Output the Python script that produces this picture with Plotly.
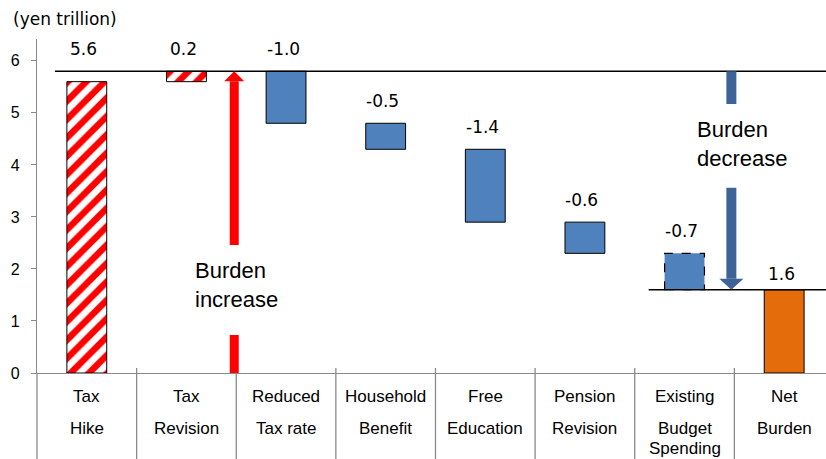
import plotly.graph_objects as go

# Consumption-tax package: step changes (yen trillion) and the resulting net burden
categories = ["Tax<br>Hike", "Tax<br>Revision", "Reduced<br>Tax rate", "Household<br>Benefit",
              "Free<br>Education", "Pension<br>Revision", "Existing<br>Budget<br>Spending", "Net<br>Burden"]
changes = [5.6, 0.2, -1.0, -0.5, -1.4, -0.6, -0.7]
net_burden = 1.6
y_ticks = [0, 1, 2, 3, 4, 5, 6]

# Layout geometry
W, H = 826, 459
M_L, M_R, M_T, M_B = 37, 0, 39, 86
Y_MAX = 6.42
X_MIN, X_MAX = -0.5, 7.42
PLOT_H = H - M_T - M_B
PX_PER_UNIT = PLOT_H / Y_MAX

NUM_FONT = "DejaVu Sans"
TXT_FONT = "Liberation Sans"
GRAY = "#8a8a8a"
BLUE = "#4F81BD"
ORANGE = "#E46C0A"
RED = "#FF0000"
ARROW_BLUE = "#3D6398"

# Floating bar geometry from the running total
bases, heights, tops = [], [], []
running = 0.0
for c in changes:
    lo = running if c > 0 else running + c
    bases.append(lo)
    heights.append(abs(c))
    running += c
    tops.append(max(running, running - c))
peak = max(tops)
bases.append(0.0)
heights.append(net_burden)
tops.append(net_burden)
labels = [f"{v:.1f}" for v in changes] + [f"{net_burden:.1f}"]
xs = list(range(len(categories)))

fig = go.Figure()


def add_bars(idx, **marker):
    fig.add_trace(go.Bar(
        x=[xs[i] for i in idx], y=[heights[i] for i in idx], base=[bases[i] for i in idx],
        width=0.4, marker=marker, opacity=1, showlegend=False, hoverinfo="skip"))


# Tax increases: red/white hatching
add_bars([0, 1], color="white",
         pattern=dict(shape="/", fgcolor=RED, bgcolor="white", fgopacity=1,
                      size=13, solidity=0.5, fillmode="overlay"),
         line=dict(color="black", width=1))
# Offsetting measures
add_bars([2, 3, 4, 5], color=BLUE, line=dict(color="black", width=1))
# Existing budget spending (outlined with a dashed border below)
add_bars([6], color=BLUE, line=dict(width=0))
# Net burden
add_bars([7], color=ORANGE, line=dict(color="black", width=1))

shapes = []
# dashed border for the existing-budget bar
shapes.append(dict(type="rect", xref="x", yref="y", x0=xs[6] - 0.2, x1=xs[6] + 0.2,
                   y0=bases[6], y1=bases[6] + heights[6],
                   line=dict(color="black", width=1.2, dash="dash"), layer="above"))

# reference lines at the peak and at the net burden level
shapes.append(dict(type="line", xref="x", yref="y", x0=-0.32, x1=X_MAX, y0=peak, y1=peak,
                   line=dict(color="black", width=1.5)))
shapes.append(dict(type="line", xref="x", yref="y", x0=5.64, x1=X_MAX, y0=net_burden, y1=net_burden,
                   line=dict(color="black", width=1.5)))

# category cell separators below the axis
sep_top = 5 / PLOT_H
sep_bottom = -(M_B + 5) / PLOT_H
for i in range(len(categories) - 1):
    shapes.append(dict(type="line", xref="x", yref="paper",
                       x0=i + 0.5, x1=i + 0.5, y0=sep_top, y1=sep_bottom,
                       line=dict(color=GRAY, width=1.3)))
# y-axis line continued through the category cells
shapes.append(dict(type="line", xref="paper", yref="paper",
                   x0=0, x1=0, y0=0, y1=sep_bottom, line=dict(color=GRAY, width=1.3)))


def shaft(x, y0, y1, color, w):
    shapes.append(dict(type="rect", xref="x", yref="y", xsizemode="pixel", xanchor=x,
                       x0=-w / 2, x1=w / 2, y0=y0, y1=y1, fillcolor=color,
                       line=dict(width=0), layer="above"))


def head(x, tip, color, half_w, length, up):
    d = -length if up else length
    shapes.append(dict(type="path", xref="x", yref="y", xsizemode="pixel", ysizemode="pixel",
                       xanchor=x, yanchor=tip,
                       path=f"M {-half_w},{d} L {half_w},{d} L 0,0 Z",
                       fillcolor=color, line=dict(width=0), layer="above"))


# "Burden increase" arrow, from zero up to the peak
up_x = 1.48
up_head = 10 / PX_PER_UNIT
shaft(up_x, 0, 0.73, RED, 9)
shaft(up_x, 2.46, peak - up_head, RED, 9)
head(up_x, peak, RED, 10, 10, True)

# "Burden decrease" arrow, from the peak down to the net burden
dn_x = 6.47
dn_head = 11 / PX_PER_UNIT
shaft(dn_x, 5.17, peak, ARROW_BLUE, 10)
shaft(dn_x, net_burden + dn_head, 3.56, ARROW_BLUE, 10)
head(dn_x, net_burden, ARROW_BLUE, 12, 11, False)

annotations = []
# value labels above each bar
for i, lab in enumerate(labels):
    anchor = peak if i == 0 else tops[i]
    shift = 16 if i == len(labels) - 1 else 22
    annotations.append(dict(x=xs[i], y=anchor, xref="x", yref="y", text=lab, showarrow=False,
                            yanchor="middle", yshift=shift, xshift=-3,
                            font=dict(family=NUM_FONT, size=17, color="black")))

# category labels, one line per row of the cell
row_shift = [-23, -55, -75]
for i, cat in enumerate(categories):
    for r, line in enumerate(cat.split("<br>")):
        annotations.append(dict(x=xs[i], y=0, xref="x", yref="y", text=line, showarrow=False,
                                yanchor="middle", yshift=row_shift[r],
                                font=dict(family=TXT_FONT, size=17, color="black")))

# arrow captions
annotations.append(dict(x=1.066, y=1.69, xref="x", yref="y", text="Burden<br>increase",
                        showarrow=False, xanchor="left", align="left", yanchor="middle",
                        font=dict(family=TXT_FONT, size=22, color="black")))
annotations.append(dict(x=6.106, y=4.41, xref="x", yref="y", text="Burden<br>decrease",
                        showarrow=False, xanchor="left", align="left", yanchor="middle",
                        font=dict(family=TXT_FONT, size=22, color="black")))

# unit caption
annotations.append(dict(x=0, y=1, xref="paper", yref="paper", text="(yen trillion)",
                        showarrow=False, xanchor="left", yanchor="middle", xshift=-26, yshift=20,
                        font=dict(family=NUM_FONT, size=17, color="black")))

fig.update_layout(
    width=W, height=H,
    margin=dict(l=M_L, r=M_R, t=M_T, b=M_B, pad=0),
    paper_bgcolor="white", plot_bgcolor="white",
    barmode="overlay",
    shapes=shapes, annotations=annotations,
    xaxis=dict(range=[X_MIN, X_MAX], showticklabels=False, showgrid=False, zeroline=False,
               showline=True, linecolor=GRAY, linewidth=1.3, ticks=""),
    yaxis=dict(range=[0, Y_MAX], tickvals=y_ticks, showgrid=False, zeroline=False,
               showline=True, linecolor=GRAY, linewidth=1.3, ticks="outside", ticklen=5,
               tickcolor=GRAY, ticklabelstandoff=8,
               tickfont=dict(family=TXT_FONT, size=16, color="black")),
)

fig.write_html("out.html")
